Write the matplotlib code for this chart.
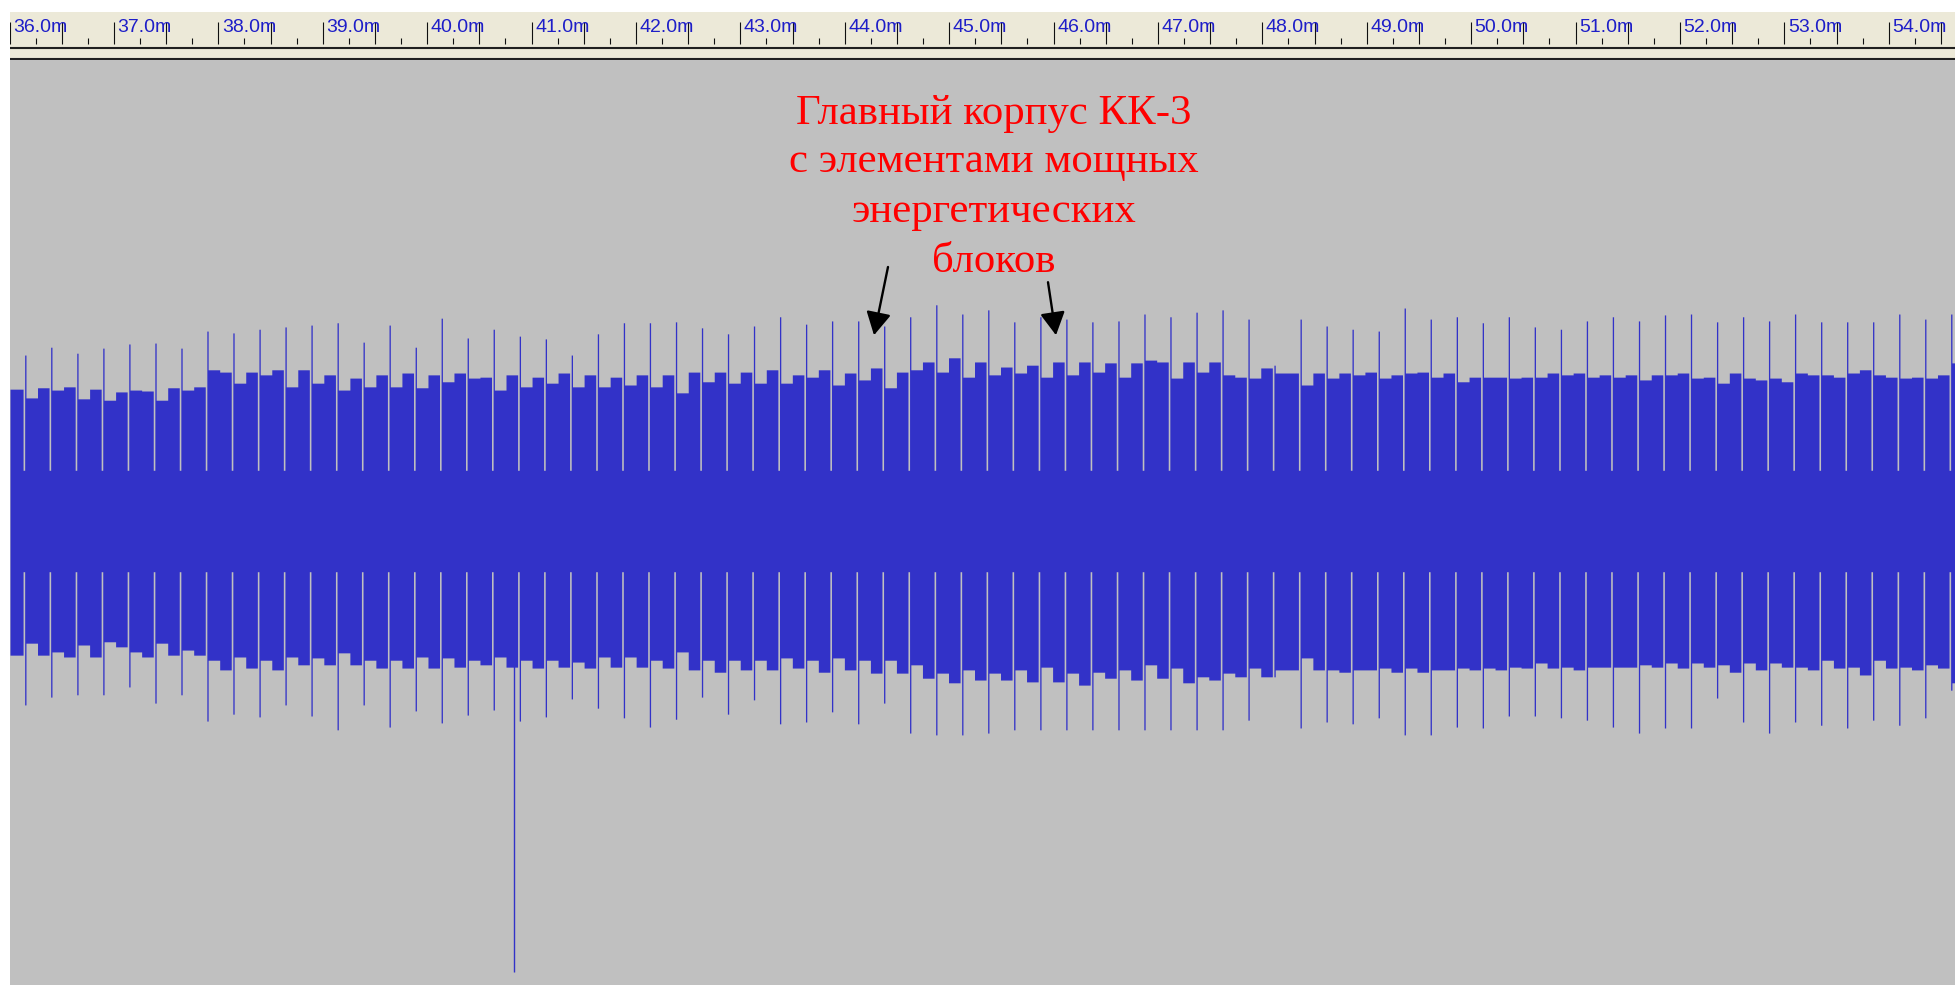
import matplotlib
matplotlib.use("Agg")
import matplotlib.pyplot as plt

# ---------------------------------------------------------------------------
# Waveform data (amplitude, full scale = +/-1), time in minutes
# ---------------------------------------------------------------------------
# periodic transients of the recording
pulse_time = [
    36.151, 36.400, 36.650, 36.899, 37.148, 37.398, 37.647, 37.896, 38.145, 38.395,
    38.644, 38.893, 39.143, 39.392, 39.641, 39.891, 40.140, 40.389, 40.638, 40.888,
    41.137, 41.386, 41.636, 41.885, 42.134, 42.384, 42.633, 42.882, 43.131, 43.381,
    43.630, 43.879, 44.129, 44.378, 44.627, 44.877, 45.126, 45.375, 45.624, 45.874,
    46.123, 46.372, 46.622, 46.871, 47.120, 47.370, 47.619, 47.868, 48.117, 48.367,
    48.616, 48.865, 49.115, 49.364, 49.613, 49.863, 50.112, 50.361, 50.610, 50.860,
    51.109, 51.358, 51.608, 51.857, 52.106, 52.356, 52.605, 52.854, 53.103, 53.353,
    53.602, 53.851, 54.101, 54.350, 54.599,
]

# peak of each transient above / below the band
spike_top = [
    0.360, 0.377, 0.364, 0.375, 0.384, 0.386, 0.375, 0.412, 0.408, 0.416, 0.421, 0.425,
    0.430, 0.388, 0.425, 0.377, 0.440, 0.397, 0.416, 0.401, 0.395, 0.360, 0.406, 0.430, 0.430,
    0.432, 0.419, 0.406, 0.423, 0.443, 0.427, 0.434, 0.434, 0.423, 0.443, 0.469, 0.449,
    0.458, 0.432, 0.443, 0.438, 0.432, 0.434, 0.449, 0.443, 0.453, 0.458, 0.438, 0.338, 0.438,
    0.423, 0.416, 0.412, 0.462, 0.438, 0.443, 0.430, 0.443, 0.421, 0.416, 0.434, 0.443,
    0.434, 0.447, 0.449, 0.432, 0.443, 0.434, 0.449, 0.432, 0.432, 0.432, 0.449, 0.438, 0.449,
]
spike_bottom = [
    -0.399, -0.382, -0.377, -0.377, -0.360, -0.395, -0.377, -0.434, -0.419, -0.425, -0.399, -0.423,
    -0.453, -0.399, -0.447, -0.412, -0.438, -0.421, -0.410, -0.434, -0.425, -0.386, -0.406, -0.427, -0.447,
    -0.430, -0.382, -0.419, -0.388, -0.440, -0.436, -0.414, -0.440, -0.395, -0.460, -0.464, -0.464,
    -0.460, -0.453, -0.453, -0.453, -0.453, -0.453, -0.453, -0.453, -0.453, -0.453, -0.432, -0.338, -0.449,
    -0.436, -0.440, -0.427, -0.464, -0.464, -0.447, -0.449, -0.423, -0.423, -0.427, -0.432, -0.447,
    -0.460, -0.449, -0.449, -0.384, -0.436, -0.460, -0.436, -0.443, -0.449, -0.432, -0.443, -0.427, -0.367,
]

# envelope between transients: first half (a) and second half (b) of each interval
env_top_a = [
    0.267, 0.284, 0.265, 0.262, 0.284, 0.262, 0.284, 0.328, 0.299, 0.317, 0.291, 0.299,
    0.284, 0.291, 0.291, 0.289, 0.302, 0.310, 0.284, 0.291, 0.299, 0.291, 0.291, 0.295, 0.291,
    0.278, 0.302, 0.299, 0.299, 0.299, 0.312, 0.295, 0.306, 0.289, 0.328, 0.323, 0.312,
    0.317, 0.321, 0.312, 0.317, 0.323, 0.312, 0.349, 0.310, 0.323, 0.317, 0.310, 0.321, 0.295,
    0.310, 0.317, 0.310, 0.321, 0.312, 0.302, 0.312, 0.310, 0.312, 0.317, 0.312, 0.312,
    0.306, 0.317, 0.310, 0.299, 0.310, 0.310, 0.321, 0.317, 0.321, 0.317, 0.310, 0.310, 0.343,
]
env_top_b = [
    0.289, 0.291, 0.286, 0.280, 0.282, 0.289, 0.291, 0.323, 0.323, 0.328, 0.328, 0.317,
    0.310, 0.317, 0.321, 0.317, 0.321, 0.312, 0.317, 0.312, 0.321, 0.317, 0.312, 0.317, 0.317,
    0.323, 0.323, 0.323, 0.328, 0.317, 0.328, 0.321, 0.332, 0.323, 0.345, 0.354, 0.345,
    0.334, 0.338, 0.345, 0.345, 0.343, 0.343, 0.345, 0.345, 0.345, 0.312, 0.332, 0.321, 0.321,
    0.321, 0.323, 0.317, 0.323, 0.321, 0.312, 0.312, 0.312, 0.321, 0.321, 0.317, 0.317,
    0.317, 0.321, 0.312, 0.321, 0.306, 0.302, 0.317, 0.312, 0.328, 0.312, 0.312, 0.317, 0.343,
]
env_bot_a = [
    -0.265, -0.284, -0.269, -0.262, -0.284, -0.265, -0.280, -0.302, -0.295, -0.302, -0.295, -0.297,
    -0.286, -0.302, -0.302, -0.295, -0.297, -0.302, -0.295, -0.302, -0.302, -0.306, -0.295, -0.295, -0.302,
    -0.284, -0.302, -0.302, -0.302, -0.297, -0.302, -0.297, -0.302, -0.302, -0.312, -0.330, -0.323,
    -0.330, -0.323, -0.317, -0.330, -0.328, -0.323, -0.312, -0.319, -0.338, -0.330, -0.319, -0.323, -0.297,
    -0.323, -0.323, -0.319, -0.319, -0.323, -0.319, -0.319, -0.317, -0.308, -0.317, -0.317, -0.317,
    -0.312, -0.308, -0.308, -0.312, -0.308, -0.308, -0.317, -0.302, -0.317, -0.302, -0.317, -0.312, -0.351,
]
env_bot_b = [
    -0.291, -0.295, -0.295, -0.273, -0.295, -0.291, -0.291, -0.323, -0.319, -0.323, -0.312, -0.312,
    -0.312, -0.319, -0.319, -0.319, -0.317, -0.312, -0.317, -0.319, -0.317, -0.319, -0.317, -0.317, -0.319,
    -0.323, -0.328, -0.323, -0.323, -0.319, -0.328, -0.323, -0.330, -0.330, -0.341, -0.351, -0.345,
    -0.345, -0.349, -0.349, -0.356, -0.341, -0.345, -0.341, -0.351, -0.345, -0.338, -0.338, -0.323, -0.323,
    -0.328, -0.323, -0.328, -0.328, -0.323, -0.323, -0.323, -0.319, -0.319, -0.323, -0.317, -0.317,
    -0.317, -0.319, -0.317, -0.328, -0.323, -0.317, -0.323, -0.319, -0.334, -0.319, -0.323, -0.319, -0.351,
]
lead_top, lead_bot = 0.286, -0.291      # level before the first transient
gap_level = 0.11                        # dip of the envelope just before each transient
click_time, click_level = 40.832, -0.978  # single large negative click

# ruler
ruler_major = list(range(36, 55))
ruler_half = [m + 0.5 for m in range(36, 55)]
ruler_quarter = [m + q for m in range(36, 55) for q in (0.25, 0.75)]
ruler_labels = [f"{m}.0m" for m in ruler_major]

# annotation
note_lines = ["Главный корпус КК-3", "с элементами мощных", "энергетических", "блоков"]

# ---------------------------------------------------------------------------
W, H, DPI = 1955, 985, 100
PX = 1 / 104.4                      # minutes per screen pixel
T0, T1 = 36.0 + 0.5 * PX, 36.0 + 1945.5 * PX
BLUE = "#3232C8"
GRAY = "#C0C0C0"
BEIGE = "#ECE9D8"

fig = plt.figure(figsize=(W / DPI, H / DPI), dpi=DPI, facecolor="white")

# waveform panel
ax = fig.add_axes([10 / W, 0, 1945 / W, 925 / H])
ax.set_facecolor(GRAY)
ax.set_xlim(T0, T1)
ax.set_ylim(-1.0065, 1.0)
ax.set_xticks([])
ax.set_yticks([])
for s in ax.spines.values():
    s.set_visible(False)

xs, top, bot = [T0], [lead_top], [lead_bot]
n = len(pulse_time)
for k in range(n):
    t = pulse_time[k]
    g0, s0, e0 = t - 2.2 * PX, t - 0.6 * PX, t + 0.7 * PX
    nxt = pulse_time[k + 1] - 2.2 * PX if k + 1 < n else T1
    mid = 0.5 * (e0 + nxt)
    xs += [g0, s0, e0, mid]
    top += [gap_level, spike_top[k], env_top_a[k], env_top_b[k]]
    bot += [-gap_level, spike_bottom[k], env_bot_a[k], env_bot_b[k]]
xs.append(T1)
top.append(top[-1])
bot.append(bot[-1])
ax.fill_between(xs, bot, top, step="post", color=BLUE, lw=0)
ax.vlines(click_time, click_level, -gap_level, color=BLUE, lw=1.0)

# red annotation text
note_x = 36.0 + 984.5 * PX
note_base = [0.861, 0.757, 0.649, 0.540]
for line, yb in zip(note_lines, note_base):
    ax.text(note_x, yb, line, ha="center", va="baseline", color="#FF0000",
            fontsize=30.8, family="Liberation Serif")

arrows = [((36.0 + 864.5 * PX, 0.403), (36.0 + 878.5 * PX, 0.551)),
          ((36.0 + 1046.5 * PX, 0.403), (36.0 + 1038.5 * PX, 0.518))]
for tip, tail in arrows:
    ax.annotate("", xy=tip, xytext=tail,
                arrowprops=dict(arrowstyle="-|>,head_length=0.7,head_width=0.38",
                                mutation_scale=20, color="black", lw=1.7,
                                shrinkA=0, shrinkB=0))

# time ruler
ar = fig.add_axes([10 / W, (H - 60) / H, 1945 / W, 48 / H])
ar.set_facecolor(BEIGE)
ar.set_xlim(T0, T1)
ar.set_ylim(60, 12)
ar.set_xticks([])
ar.set_yticks([])
for s in ar.spines.values():
    s.set_visible(False)
ar.vlines(ruler_major, 22, 44, color="#101010", lw=0.8)
ar.vlines(ruler_half, 22, 44, color="#101010", lw=0.8)
ar.vlines(ruler_quarter, 38, 44, color="#101010", lw=0.8)
ar.axhline(48.0, color="#202020", lw=1.5)
ar.axhline(58.8, color="#202020", lw=1.5)
for m, lab in zip(ruler_major, ruler_labels):
    ar.text(m + 3.5 * PX, 32, lab, ha="left", va="baseline", color="#1E1EC8",
            fontsize=14, family="Liberation Sans")

fig.savefig("out.png", dpi=DPI, facecolor="white")
